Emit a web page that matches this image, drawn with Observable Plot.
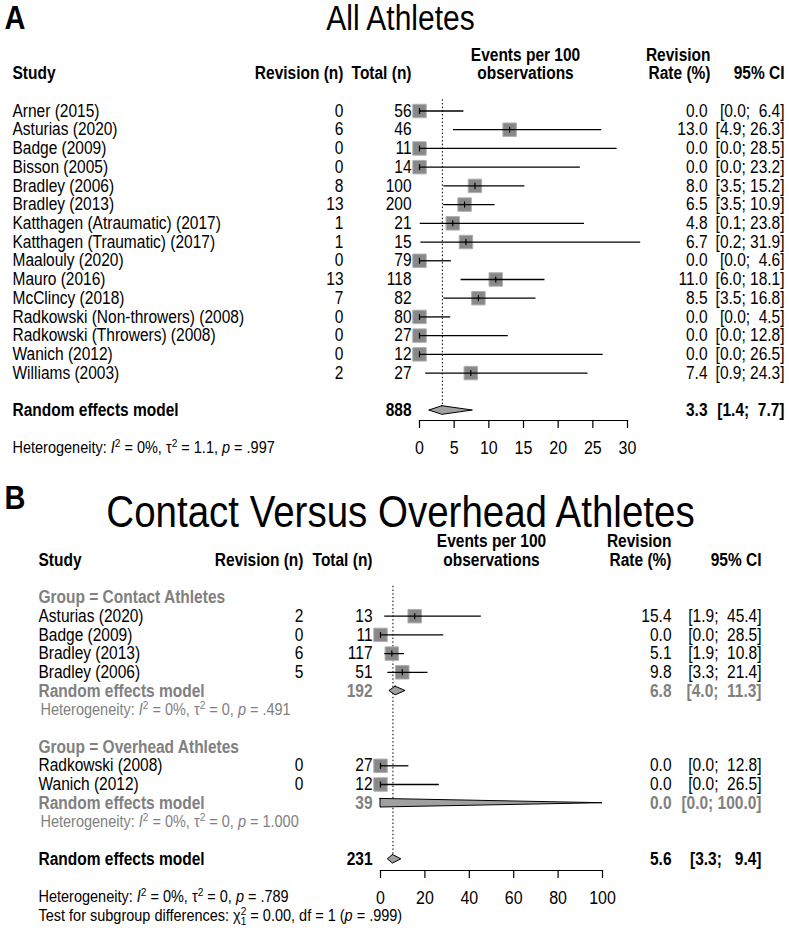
<!DOCTYPE html>
<html><head><meta charset="utf-8">
<script src="https://cdn.jsdelivr.net/npm/d3@7"></script>
<script src="https://cdn.jsdelivr.net/npm/@observablehq/plot@0.6"></script>
<style>
html,body{margin:0;padding:0;background:#fff;}
#chart svg{display:block;}
</style>
</head><body><div id="chart"></div>
<script>
// ---------------- Panel A data: All Athletes ----------------
const studiesA = ["Arner (2015)", "Asturias (2020)", "Badge (2009)", "Bisson (2005)", "Bradley (2006)", "Bradley (2013)",
  "Katthagen (Atraumatic) (2017)", "Katthagen (Traumatic) (2017)", "Maalouly (2020)", "Mauro (2016)", "McClincy (2018)",
  "Radkowski (Non-throwers) (2008)", "Radkowski (Throwers) (2008)", "Wanich (2012)", "Williams (2003)"];
const revisionA = [0, 6, 0, 0, 8, 13, 1, 1, 0, 13, 7, 0, 0, 0, 2];
const totalA = [56, 46, 11, 14, 100, 200, 21, 15, 79, 118, 82, 80, 27, 12, 27];
const rateA = [0.0, 13.0, 0.0, 0.0, 8.0, 6.5, 4.8, 6.7, 0.0, 11.0, 8.5, 0.0, 0.0, 0.0, 7.4];
const lowerA = [0.0, 4.9, 0.0, 0.0, 3.5, 3.5, 0.1, 0.2, 0.0, 6.0, 3.5, 0.0, 0.0, 0.0, 0.9];
const upperA = [6.4, 26.3, 28.5, 23.2, 15.2, 10.9, 23.8, 31.9, 4.6, 18.1, 16.8, 4.5, 12.8, 26.5, 24.3];
const pooledA = {total: 888, rate: 3.3, lower: 1.4, upper: 7.7};
const hetA = "Heterogeneity: {i:I}{sup:2} = 0%, \u03C4{sup:2} = 1.1, {i:p} = .997";
const ticksA = [0, 5, 10, 15, 20, 25, 30];

// ---------------- Panel B data: Contact vs Overhead ----------------
const groupsB = ["Contact Athletes", "Overhead Athletes"];
const studiesB = ["Asturias (2020)", "Badge (2009)", "Bradley (2013)", "Bradley (2006)", "Radkowski (2008)", "Wanich (2012)"];
const groupOfB = [0, 0, 0, 0, 1, 1];
const revisionB = [2, 0, 6, 5, 0, 0];
const totalB = [13, 11, 117, 51, 27, 12];
const rateB = [15.4, 0.0, 5.1, 9.8, 0.0, 0.0];
const lowerB = [1.9, 0.0, 1.9, 3.3, 0.0, 0.0];
const upperB = [45.4, 28.5, 10.8, 21.4, 12.8, 26.5];
const subTotalB = [192, 39];
const subRateB = [6.8, 0.0];
const subLowerB = [4.0, 0.0];
const subUpperB = [11.3, 100.0];
const subHetB = ["Heterogeneity: {i:I}{sup:2} = 0%, \u03C4{sup:2} = 0, {i:p} = .491",
                 "Heterogeneity: {i:I}{sup:2} = 0%, \u03C4{sup:2} = 0, {i:p} = 1.000"];
const pooledB = {total: 231, rate: 5.6, lower: 3.3, upper: 9.4};
const hetB = "Heterogeneity: {i:I}{sup:2} = 0%, \u03C4{sup:2} = 0, {i:p} = .789";
const testB = "Test for subgroup differences: \u03C7{supsub:2,1} = 0.00, df = 1 ({i:p} = .999)";
const ticksB = [0, 20, 40, 60, 80, 100];

// ---------------- styling ----------------
const FONT = "'Liberation Sans', Arial, Helvetica, sans-serif";
const FS = 15.5, FS_HET = 14.5, FS_TICK = 16;
const GRAY = "#808080";
const STRETCH = 1.14;
const NBSP = "\u00A0";
const fmt = v => v.toFixed(1);
const ciText = (lo, hi, w) => { const h = fmt(hi); return `[${fmt(lo)};${NBSP}${NBSP.repeat(Math.max(0, w - h.length))}${h}]`; };

const vline = {draw(ctx, size) { const h = Math.sqrt(size) / 2; ctx.moveTo(0, -h); ctx.lineTo(0, h); }};

function textMarks(cells, cols, ML) {
  const out = [];
  const groups = d3.group(cells, d => `${d.col}|${d.bold ? "bold" : "normal"}|${d.size || FS}`);
  for (const [key, arr] of groups) {
    const [col, weight, size] = key.split("|");
    const c = cols[col];
    out.push(Plot.text(arr, {y: "row", text: "text", fill: d => d.color || "black", frameAnchor: "left",
      dx: c.x - ML, textAnchor: c.anchor, fontWeight: weight, fontSize: +size, fontFamily: FONT}));
  }
  return out;
}

function diamondPath(ds, h) {
  return ds.flatMap((d, i) => [
    {id: i, y: d.row - h, x1: d.rate, x2: d.rate},
    {id: i, y: d.row, x1: d.lower, x2: d.upper},
    {id: i, y: d.row + h, x1: d.rate, x2: d.rate}
  ]);
}

function forestPlot(s) {
  const ML = s.x0px, MR = s.width - s.x1px, MB = s.height - s.axisPx;
  const marks = [
    Plot.ruleX([s.ref], {x: "x", y1: "y1", y2: "y2", stroke: "black", strokeWidth: 1, strokeDasharray: "1.5,2.2"}),
    Plot.dot(s.points, {x: "rate", y: "row", symbol: "square", r: 7.6, fill: "#888888", stroke: "#b0b0b0", strokeWidth: 1}),
    Plot.ruleY(s.points, {y: "row", x1: "lower", x2: "upper", stroke: "black", strokeWidth: 1.3}),
    Plot.dot(s.points, {x: "rate", y: "row", symbol: vline, r: 3.4, stroke: "black", strokeWidth: 1.2, fill: "none"}),
    Plot.areaX(diamondPath(s.diamonds, 0.23), {y: "y", x1: "x1", x2: "x2", z: "id", fill: "#a0a0a0", stroke: "black", strokeWidth: 1}),
    Plot.frame({anchor: "bottom", stroke: "black", strokeWidth: 1.2}),
    Plot.axisX({ticks: s.ticks, tickSize: 8, tickPadding: 13, fontSize: FS_TICK, fontFamily: FONT, label: null, tickFormat: d => String(d), strokeWidth: 1.2}),
    ...textMarks(s.cells, s.cols, ML)
  ];
  const svg = Plot.plot({
    width: s.width, height: s.height,
    marginLeft: ML, marginRight: MR, marginTop: 0, marginBottom: MB,
    x: {domain: s.domain, axis: null},
    y: {domain: [0, 1], range: [s.row0px, s.row0px + s.rowStep], axis: null},
    color: {type: "identity"},
    style: {fontFamily: FONT, fontSize: FS + "px", color: "black", background: "white", overflow: "visible"},
    marks
  });
  richify(svg);
  for (const t of svg.querySelectorAll("text")) {
    const tr = t.getAttribute("transform");
    if (tr && tr.startsWith("translate")) t.setAttribute("transform", tr + ` scale(1,${STRETCH})`);
  }
  return svg;
}

const NS = "http://www.w3.org/2000/svg";
function richify(svg) {
  for (const t of svg.querySelectorAll("text")) {
    const s = t.textContent;
    if (!/\{[a-z]+:/.test(s)) continue;
    const fs = parseFloat(t.closest("[font-size]")?.getAttribute("font-size")) || FS;
    while (t.firstChild) t.removeChild(t.firstChild);
    let cur = 0;
    const add = (txt, attrs, target) => {
      const ts = document.createElementNS(NS, "tspan");
      ts.textContent = txt;
      for (const k in attrs) ts.setAttribute(k, attrs[k]);
      if (target !== cur) { ts.setAttribute("dy", target - cur); cur = target; }
      t.appendChild(ts);
    };
    for (const p of s.split(/(\{[a-z]+:[^}]*\})/)) {
      if (!p) continue;
      const m = p.match(/^\{([a-z]+):([^}]*)\}$/);
      if (!m) add(p, {}, 0);
      else if (m[1] === "i") add(m[2], {"font-style": "italic"}, 0);
      else if (m[1] === "sup") add(m[2], {"font-size": fs * 0.7}, -0.36 * fs);
      else if (m[1] === "supsub") {
        const [a, b] = m[2].split(",");
        add(a, {"font-size": fs * 0.7}, -0.36 * fs);
        add(b, {"font-size": fs * 0.7, dx: -0.556 * 0.7 * fs}, 0.25 * fs);
      }
    }
  }
}

// ---------------- build panel A ----------------
const wA = d3.max([...upperA, pooledA.upper], v => fmt(v).length);
const cellsA = [
  {row: -4.95, col: "label", text: "A", bold: true, size: 29},
  {row: -4.9, col: "title", text: "All Athletes", size: 30},
  {row: -2, col: "study", text: "Study", bold: true},
  {row: -2, col: "rev", text: "Revision (n)", bold: true},
  {row: -2, col: "tot", text: "Total (n)", bold: true},
  {row: -3, col: "events", text: "Events per 100", bold: true},
  {row: -2, col: "events", text: "observations", bold: true},
  {row: -3, col: "hdr", text: "Revision", bold: true},
  {row: -2, col: "hdr", text: "Rate (%)", bold: true},
  {row: -2, col: "ci", text: "95% CI", bold: true}
];
const ptsA = studiesA.map((s, i) => {
  cellsA.push({row: i, col: "study", text: s});
  cellsA.push({row: i, col: "rev", text: String(revisionA[i])});
  cellsA.push({row: i, col: "tot", text: String(totalA[i])});
  cellsA.push({row: i, col: "est", text: fmt(rateA[i])});
  cellsA.push({row: i, col: "ci", text: ciText(lowerA[i], upperA[i], wA)});
  return {row: i, rate: rateA[i], lower: lowerA[i], upper: upperA[i]};
});
const reRowA = studiesA.length + 1;
cellsA.push({row: reRowA, col: "study", text: "Random effects model", bold: true});
cellsA.push({row: reRowA, col: "tot", text: String(pooledA.total), bold: true});
cellsA.push({row: reRowA, col: "est", text: fmt(pooledA.rate), bold: true});
cellsA.push({row: reRowA, col: "ci", text: ciText(pooledA.lower, pooledA.upper, wA), bold: true});
cellsA.push({row: reRowA + 2, col: "study", text: hetA, size: FS_HET});

const panelA = forestPlot({
  width: 789, height: 470, x0px: 419, x1px: 627, axisPx: 420, row0px: 110.5, rowStep: 18.72,
  domain: [ticksA[0], ticksA[ticksA.length - 1]], ticks: ticksA,
  cells: cellsA, points: ptsA,
  diamonds: [{row: reRowA, ...pooledA}],
  ref: {x: pooledA.rate, y1: -0.6, y2: reRowA},
  cols: {
    label: {x: 4, anchor: "start"}, title: {x: 400, anchor: "middle"},
    study: {x: 12, anchor: "start"}, rev: {x: 343, anchor: "end"}, tot: {x: 411, anchor: "end"},
    events: {x: 525, anchor: "middle"}, est: {x: 707, anchor: "end"}, hdr: {x: 710, anchor: "end"},
    ci: {x: 784, anchor: "end"}
  }
});

// ---------------- build panel B ----------------
const wB = d3.max([...upperB, ...subUpperB, pooledB.upper], v => fmt(v).length);
const cellsB = [
  {row: -5.3, col: "label", text: "B", bold: true, size: 29},
  {row: -4.5, col: "title", text: "Contact Versus Overhead Athletes", size: 38.5},
  {row: -2, col: "study", text: "Study", bold: true},
  {row: -2, col: "rev", text: "Revision (n)", bold: true},
  {row: -2, col: "tot", text: "Total (n)", bold: true},
  {row: -3, col: "events", text: "Events per 100", bold: true},
  {row: -2, col: "events", text: "observations", bold: true},
  {row: -3, col: "est", text: "Revision", bold: true},
  {row: -2, col: "est", text: "Rate (%)", bold: true},
  {row: -2, col: "ci", text: "95% CI", bold: true}
];
const ptsB = [], diaB = [];
let r = 0;
groupsB.forEach((g, gi) => {
  cellsB.push({row: r, col: "study", text: `Group = ${g}`, bold: true, color: GRAY}); r++;
  studiesB.forEach((s, i) => {
    if (groupOfB[i] !== gi) return;
    cellsB.push({row: r, col: "study", text: s});
    cellsB.push({row: r, col: "rev", text: String(revisionB[i])});
    cellsB.push({row: r, col: "tot", text: String(totalB[i])});
    cellsB.push({row: r, col: "est", text: fmt(rateB[i])});
    cellsB.push({row: r, col: "ci", text: ciText(lowerB[i], upperB[i], wB)});
    ptsB.push({row: r, rate: rateB[i], lower: lowerB[i], upper: upperB[i]});
    r++;
  });
  cellsB.push({row: r, col: "study", text: "Random effects model", bold: true, color: GRAY});
  cellsB.push({row: r, col: "tot", text: String(subTotalB[gi]), bold: true, color: GRAY});
  cellsB.push({row: r, col: "est", text: fmt(subRateB[gi]), bold: true, color: GRAY});
  cellsB.push({row: r, col: "ci", text: ciText(subLowerB[gi], subUpperB[gi], wB), bold: true, color: GRAY});
  diaB.push({row: r, rate: subRateB[gi], lower: subLowerB[gi], upper: subUpperB[gi]});
  r++;
  cellsB.push({row: r, col: "het", text: subHetB[gi], size: FS_HET, color: GRAY}); r++;
  r++;
});
const reRowB = r;
cellsB.push({row: reRowB, col: "study", text: "Random effects model", bold: true});
cellsB.push({row: reRowB, col: "tot", text: String(pooledB.total), bold: true});
cellsB.push({row: reRowB, col: "est", text: fmt(pooledB.rate), bold: true});
cellsB.push({row: reRowB, col: "ci", text: ciText(pooledB.lower, pooledB.upper, wB), bold: true});
diaB.push({row: reRowB, ...pooledB});
cellsB.push({row: reRowB + 2, col: "study", text: hetB, size: FS_HET});
cellsB.push({row: reRowB + 3, col: "study", text: testB, size: FS_HET});

const panelB = forestPlot({
  width: 789, height: 458, x0px: 380, x1px: 602, axisPx: 400, row0px: 127, rowStep: 18.7,
  domain: [ticksB[0], ticksB[ticksB.length - 1]], ticks: ticksB,
  cells: cellsB, points: ptsB, diamonds: diaB,
  ref: {x: pooledB.rate, y1: -0.6, y2: reRowB},
  cols: {
    label: {x: 4, anchor: "start"}, title: {x: 400, anchor: "middle"},
    study: {x: 38, anchor: "start"}, het: {x: 40, anchor: "start"},
    rev: {x: 303, anchor: "end"}, tot: {x: 372, anchor: "end"},
    events: {x: 491, anchor: "middle"}, est: {x: 671, anchor: "end"}, ci: {x: 761, anchor: "end"}
  }
});

document.getElementById("chart").append(panelA, panelB);
</script>
</body></html>
